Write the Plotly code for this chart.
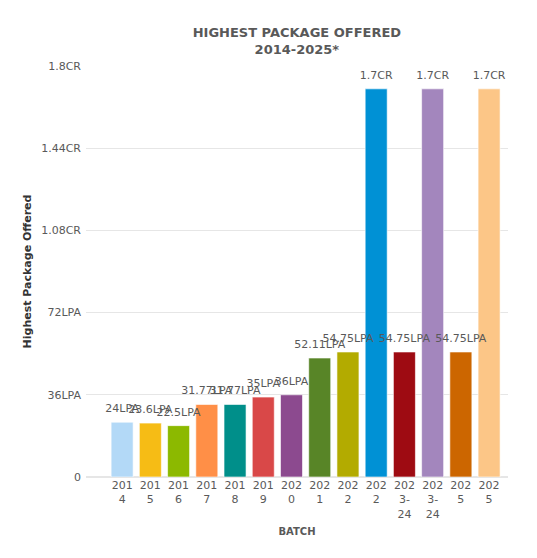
import plotly.graph_objects as go

# batch labels (some batches repeat, so bars are placed by index)
batches = ["2014", "2015", "2016", "2017", "2018", "2019", "2020",
           "2021", "2022", "2022", "2023-24", "2023-24", "2025", "2025"]
tick_text = ["201<br>4", "201<br>5", "201<br>6", "201<br>7", "201<br>8",
             "201<br>9", "202<br>0", "202<br>1", "202<br>2", "202<br>2",
             "202<br>3-<br>24", "202<br>3-<br>24", "202<br>5", "202<br>5"]
# package in LPA
package_lpa = [24, 23.6, 22.5, 31.77, 31.77, 35, 36,
               52.11, 54.75, 170, 54.75, 170, 54.75, 170]
bar_labels = ["24LPA", "23.6LPA", "22.5LPA", "31.77LPA", "31.77LPA", "35LPA",
              "36LPA", "52.11LPA", "54.75LPA", "1.7CR", "54.75LPA", "1.7CR",
              "54.75LPA", "1.7CR"]
bar_colors = ["#b3d9f7", "#f6bc15", "#8cb900", "#ff8f47", "#008f8a", "#d94848",
              "#8c4a8f", "#588527", "#b3ab00", "#0091d5", "#9e0b12", "#a386bd",
              "#cc6600", "#fcc687"]

y_ticks = [0, 36, 72, 108, 144, 180]
y_tick_text = ["0", "36LPA", "72LPA", "1.08CR", "1.44CR", "1.8CR"]

grey = "#595959"
font_name = "DejaVu Sans"
x_pos = list(range(len(batches)))

fig = go.Figure()
fig.add_trace(go.Bar(
    x=x_pos,
    y=package_lpa,
    marker=dict(color=bar_colors, line=dict(color="rgba(255,255,255,0.6)", width=1)),
    width=0.78,
    hovertext=batches,
))
# labels drawn as a separate layer so they sit on top of neighbouring bars
fig.add_trace(go.Scatter(
    x=x_pos,
    y=package_lpa,
    mode="markers+text",
    text=bar_labels,
    textposition="top center",
    marker=dict(size=10, opacity=0),
    textfont=dict(color=grey, size=11, family=font_name),
    cliponaxis=False,
    hoverinfo="skip",
))

fig.update_layout(
    width=537, height=558,
    margin=dict(l=78, r=37, t=58, b=89),
    paper_bgcolor="white",
    plot_bgcolor="white",
    showlegend=False,
    font=dict(family=font_name, color=grey, size=11),
    title=dict(
        text="<b>HIGHEST PACKAGE OFFERED<br>2014-2025*</b>",
        x=0.538, xanchor="center", y=0.948, yanchor="top",
        font=dict(size=13, color=grey, family=font_name),
    ),
)

fig.update_xaxes(
    automargin=False,
    tickmode="array",
    tickvals=x_pos,
    ticktext=tick_text,
    range=[-1.28, 13.67],
    showgrid=False,
    showline=False,
    zeroline=False,
    ticks="",
    tickangle=0,
    tickfont=dict(size=11, color=grey),
    title=dict(text="<b>BATCH</b>", font=dict(size=10, color=grey), standoff=8),
)

fig.update_yaxes(
    automargin=False,
    range=[0, 180],
    tickmode="array",
    tickvals=y_ticks,
    ticktext=y_tick_text,
    ticklabelstandoff=4,
    showgrid=True,
    gridcolor="#e6e6e6",
    zeroline=True,
    zerolinecolor="#e6e6e6",
    ticks="",
    tickfont=dict(size=11, color=grey),
    title=dict(text="<b>Highest Package Offered</b>", font=dict(size=11, color="#333333"), standoff=7),
)

fig.write_html("out.html")
